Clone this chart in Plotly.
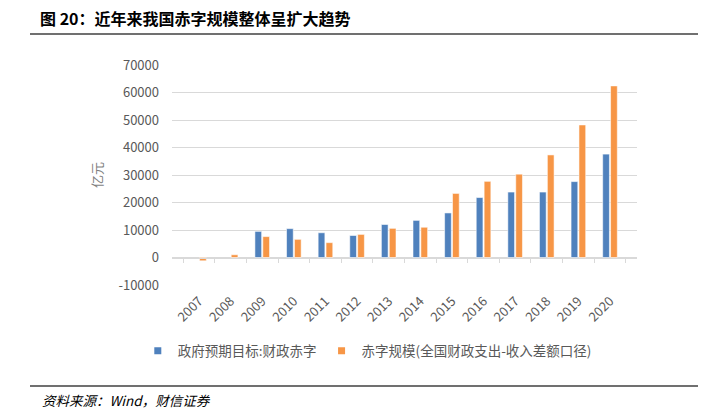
import plotly.graph_objects as go

years = ["2007", "2008", "2009", "2010", "2011", "2012", "2013",
         "2014", "2015", "2016", "2017", "2018", "2019", "2020"]
target_deficit = [None, None, 9500, 10500, 9000, 8000, 12000,
                  13500, 16200, 21800, 23800, 23800, 27600, 37600]
actual_deficit = [-1200, 1000, 7600, 6600, 5400, 8400, 10600,
                  11000, 23300, 27700, 30300, 37300, 48200, 62400]
y_ticks = [-10000, 0, 10000, 20000, 30000, 40000, 50000, 60000, 70000]
y_tick_text = ["-10000", "0", "10000", "20000", "30000", "40000", "50000", "60000", "70000"]

name_target = "政府预期目标:财政赤字"
name_actual = "赤字规模(全国财政支出-收入差额口径)"

BLUE = "#4F81BD"
ORANGE = "#F79646"
GRAY = "#595959"
FONT = "Noto Sans CJK SC"

fig = go.Figure()
fig.add_trace(go.Bar(x=years, y=target_deficit, name=name_target, showlegend=False,
                     marker=dict(color=BLUE, line=dict(color="rgba(255,255,255,0.55)", width=1))))
fig.add_trace(go.Bar(x=years, y=actual_deficit, name=name_actual, showlegend=False,
                     marker=dict(color=ORANGE, line=dict(color="rgba(255,255,255,0.55)", width=1))))
# legend-only entries with small square markers
fig.add_trace(go.Scatter(x=[None], y=[None], mode="markers", name=name_target,
                         marker=dict(symbol="square", size=7, color=BLUE)))
fig.add_trace(go.Scatter(x=[None], y=[None], mode="markers", name=name_actual,
                         marker=dict(symbol="square", size=7, color=ORANGE)))
# helper trace for the zero-level category axis (ticks at boundaries)
fig.add_trace(go.Scatter(x=years, y=[None] * len(years), xaxis="x2", yaxis="y",
                         showlegend=False, hoverinfo="skip", mode="markers"))

fig.update_layout(
    width=708, height=413,
    margin=dict(l=172, r=71, t=65, b=128),
    paper_bgcolor="white", plot_bgcolor="white",
    font=dict(family=FONT, color=GRAY, size=12),
    barmode="group", bargap=0.5, bargroupgap=0.15,
    xaxis=dict(type="category", categoryorder="array", categoryarray=years,
               tickangle=-45, showgrid=False, showline=False, ticks="",
               ticklabelstandoff=5, tickfont=dict(size=13, color=GRAY, family=FONT)),
    xaxis2=dict(type="category", matches="x", overlaying="x", anchor="free",
                position=0.125, showticklabels=False, showgrid=False,
                showline=True, linecolor="#D9D9D9", linewidth=1,
                ticks="outside", tickson="boundaries", ticklen=4,
                tickcolor="#D9D9D9", tickwidth=1),
    yaxis=dict(range=[-10000, 70000], tickvals=y_ticks, ticktext=y_tick_text,
               showgrid=True, gridcolor="#D9D9D9", gridwidth=1, zeroline=False,
               showline=False, ticks="", ticklabelstandoff=12,
               tickfont=dict(size=13, color=GRAY, family=FONT),
               title=dict(text="亿元", standoff=12,
                          font=dict(size=13, color="#7F7F7F", family=FONT))),
    legend=dict(orientation="h", x=0.42, xanchor="center", y=-0.3, yanchor="middle",
                font=dict(size=13.5, color=GRAY, family=FONT), itemwidth=30,
                tracegroupgap=0, bgcolor="rgba(0,0,0,0)"),
    showlegend=True,
)

# header / footer texts and rules
fig.add_annotation(text="<b>图 20：近年来我国赤字规模整体呈扩大趋势</b>", xref="paper", yref="paper",
                   x=(38 - 172) / 465, y=(285 - 18) / 220, xanchor="left", yanchor="middle",
                   showarrow=False, font=dict(size=16, color="#000000", family=FONT))
fig.add_annotation(text="<i>资料来源：Wind，财信证券</i>", xref="paper", yref="paper",
                   x=(40 - 172) / 465, y=(285 - 400) / 220, xanchor="left", yanchor="middle",
                   showarrow=False, font=dict(size=13.5, color="#000000", family=FONT))
for ypx in (34, 386):
    fig.add_shape(type="line", xref="paper", yref="paper",
                  x0=(30 - 172) / 465, x1=(698 - 172) / 465,
                  y0=(285 - ypx) / 220, y1=(285 - ypx) / 220,
                  line=dict(color="#404040", width=1.5))

fig.write_html("out.html", config={"displayModeBar": False},
               post_script="document.body.style.margin='0';document.body.style.padding='0';")
